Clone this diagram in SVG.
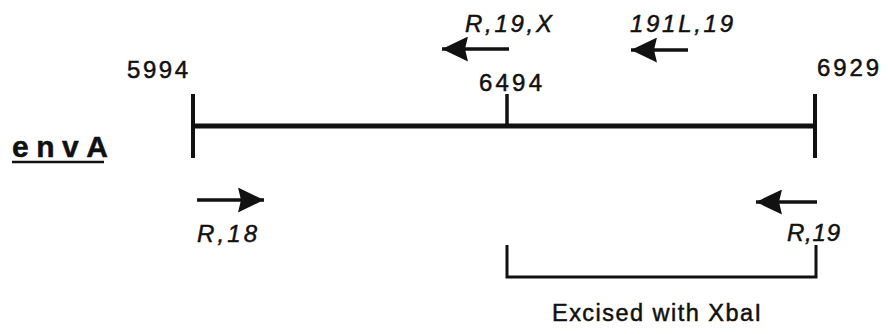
<svg xmlns="http://www.w3.org/2000/svg" width="888" height="334" viewBox="0 0 888 334">
<style>
  text { stroke: #111; stroke-width: 0.5; }
  .num { font-family: "Liberation Sans", Arial, sans-serif; font-size: 24px; fill: #111; }
  .primer { font-family: "Liberation Sans", Arial, sans-serif; font-size: 24px; font-style: italic; fill: #111; }
  .gene { font-family: "Liberation Sans", Arial, sans-serif; font-size: 30px; font-weight: bold; fill: #111; }
  .label { font-family: "Liberation Sans", Arial, sans-serif; font-size: 23.5px; fill: #111; }
  .map { stroke: #111; fill: none; stroke-linecap: butt; }
  .shaft { stroke: #111; stroke-width: 3.5; fill: none; }
</style>
<defs>
  <marker id="head" markerUnits="userSpaceOnUse" markerWidth="27" markerHeight="25" refX="26" refY="12.5" orient="auto">
    <path d="M0,0 L26,12.5 L0,25 L3,12.5 Z" fill="#111"/>
  </marker>
</defs>
<rect width="888" height="334" fill="#fff"/>

<g id="gene-label">
  <text class="gene" x="12" y="157" textLength="96" lengthAdjust="spacing">envA</text>
  <line x1="12" y1="162" x2="104" y2="162" stroke="#111" stroke-width="2.5"/>
</g>

<g id="map">
  <line class="map" x1="193" y1="126" x2="815" y2="126" stroke-width="5"/>
  <line class="map" x1="193" y1="94" x2="193" y2="158" stroke-width="4"/>
  <line class="map" x1="815" y1="94" x2="815" y2="158" stroke-width="4"/>
  <line class="map" x1="507" y1="94" x2="507" y2="126" stroke-width="3.5"/>
  <text class="num" x="127" y="78" textLength="61" lengthAdjust="spacing">5994</text>
  <text class="num" x="479" y="91" textLength="63" lengthAdjust="spacing">6494</text>
  <text class="num" x="817" y="76" textLength="62" lengthAdjust="spacing">6929</text>
</g>

<g id="connectors">
  <line class="shaft" x1="509" y1="49" x2="442" y2="49" marker-end="url(#head)"/>
  <line class="shaft" x1="688" y1="50" x2="631" y2="50" marker-end="url(#head)"/>
  <line class="shaft" x1="197" y1="200" x2="264" y2="200" marker-end="url(#head)"/>
  <line class="shaft" x1="817" y1="202" x2="756" y2="202" marker-end="url(#head)"/>
</g>

<g id="primer-R19X">
  <text class="primer" x="465" y="32" textLength="87" lengthAdjust="spacing">R,19,X</text>
</g>
<g id="primer-191L19">
  <text class="primer" x="630" y="32" textLength="103" lengthAdjust="spacing">191L,19</text>
</g>
<g id="primer-R18">
  <text class="primer" x="197" y="242" textLength="60" lengthAdjust="spacing">R,18</text>
</g>
<g id="primer-R19">
  <text class="primer" x="787" y="241" textLength="53" lengthAdjust="spacing">R,19</text>
</g>

<g id="excised">
  <path class="map" d="M507,245 L507,277 L816,277 L816,245" stroke-width="3"/>
  <text class="label" x="552" y="321" textLength="209" lengthAdjust="spacing">Excised with XbaI</text>
</g>
</svg>
